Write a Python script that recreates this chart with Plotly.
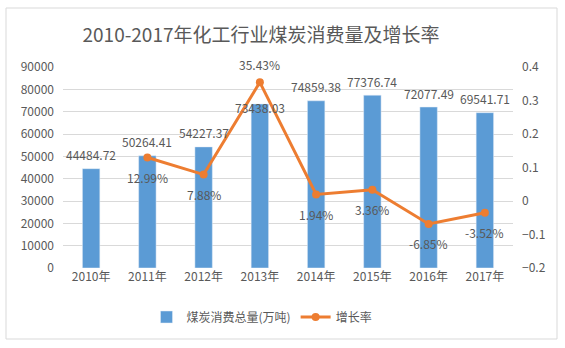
import plotly.graph_objects as go

years = ["2010年", "2011年", "2012年", "2013年", "2014年", "2015年", "2016年", "2017年"]
consumption = [44484.72, 50264.41, 54227.37, 73438.03, 74859.38, 77376.74, 72077.49, 69541.71]
growth_years = ["2011年", "2012年", "2013年", "2014年", "2015年", "2016年", "2017年"]
growth = [0.1299, 0.0788, 0.3543, 0.0194, 0.0336, -0.0685, -0.0352]

FONT = "Noto Sans CJK SC, Noto Sans, sans-serif"
TXT = "#595959"
BLUE = "#5B9BD5"
ORANGE = "#ED7D31"

fig = go.Figure()
fig.add_trace(go.Bar(x=years, y=consumption, name="煤炭消费总量(万吨)",
                     marker_color=BLUE, width=0.31, yaxis="y"))
fig.add_trace(go.Scatter(x=growth_years, y=growth, name="增长率", mode="lines+markers",
                         line=dict(color=ORANGE, width=3), marker=dict(size=8, color=ORANGE),
                         yaxis="y2"))

annotations = []
for i, (c, v) in enumerate(zip(years, consumption)):
    annotations.append(dict(x=c, y=v, xref="x", yref="y", text=f"{v:.2f}", showarrow=False,
                            yshift=(-4 if i == 3 else 14), font=dict(size=12, color=TXT, family=FONT)))
for c, g in zip(growth_years, growth):
    annotations.append(dict(x=c, y=g, xref="x", yref="y2", text=f"{g*100:.2f}%", showarrow=False,
                            yshift=(18 if g > 0.3 else -20), font=dict(size=12, color=TXT, family=FONT)))

fig.update_layout(
    width=565, height=348,
    margin=dict(l=63, r=52, t=67, b=80),
    paper_bgcolor="white", plot_bgcolor="white",
    font=dict(family=FONT, size=12, color=TXT),
    title=dict(text="2010-2017年化工行业煤炭消费量及增长率", x=261/565, xref="container", xanchor="center",
               y=1 - 35/348, yref="container", yanchor="middle",
               font=dict(size=19, color=TXT, family=FONT)),
    xaxis=dict(showgrid=False, showline=False, ticks="", tickfont=dict(size=12, color=TXT)),
    yaxis=dict(range=[0, 90000], dtick=10000, tickformat="d", showgrid=True, gridcolor="#D9D9D9",
               gridwidth=1, zeroline=False, showline=False, tickfont=dict(size=12, color=TXT),
               ticklabelstandoff=8),
    yaxis2=dict(range=[-0.2, 0.4], dtick=0.1, overlaying="y", side="right", showgrid=False,
                zeroline=False, showline=False, tickfont=dict(size=12, color=TXT),
                ticklabelstandoff=8),
    showlegend=True,
    legend=dict(orientation="h", x=(262 - 63) / 450, xanchor="center", y=(268 - 317) / 201,
                yanchor="middle", font=dict(size=12, color=TXT), bgcolor="rgba(0,0,0,0)"),
    annotations=annotations,
    shapes=[dict(type="rect", xref="paper", yref="paper",
                 x0=(6 - 63) / 450, x1=(557 - 63) / 450, y0=(268 - 339) / 201, y1=(268 - 8) / 201,
                 line=dict(color="#D9D9D9", width=1), fillcolor="rgba(0,0,0,0)", layer="below")],
)

fig.write_html("out.html")
